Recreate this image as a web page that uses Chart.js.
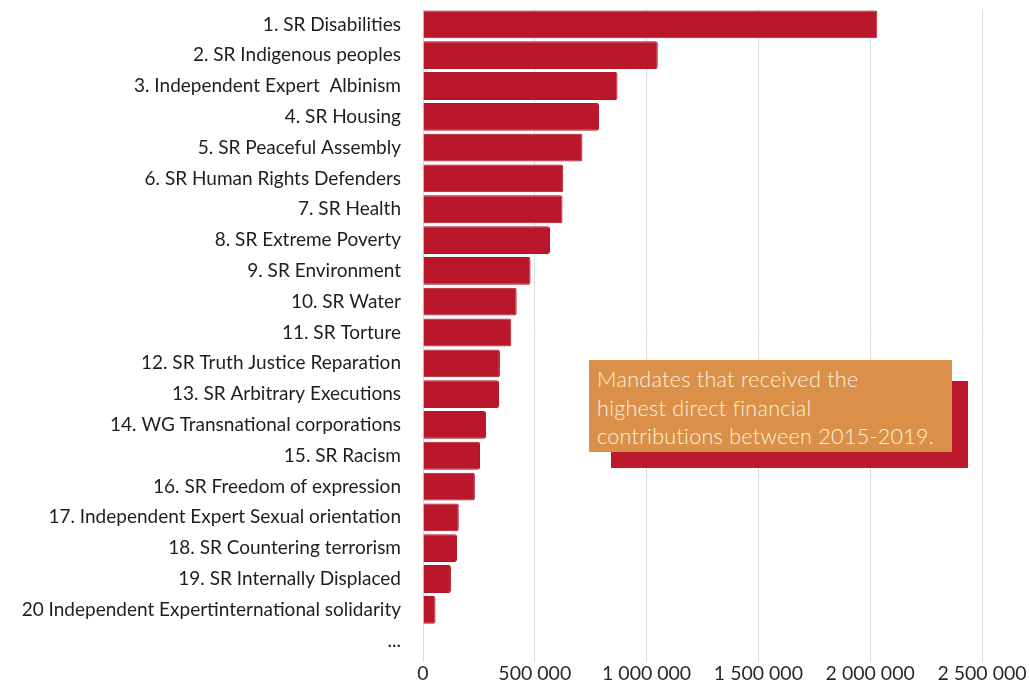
<!DOCTYPE html>
<html>
<head>
<meta charset="utf-8">
<title>Mandates funding</title>
<script src="https://cdn.jsdelivr.net/npm/chart.js@4.4.0/dist/chart.umd.min.js"></script>
<style>
    html, body { margin: 0; padding: 0; background: #ffffff; }
    #wrap { position: relative; width: 1029px; height: 684px; }
    /* Callout box with its red drop block behind it */
    .note-shadow {
        position: absolute; left: 611px; top: 381px; width: 357px; height: 87px;
        background: #bc1a2c;
    }
    .note {
        position: absolute; left: 589px; top: 360px; width: 363px; height: 92px;
        background: #da9049; color: #fdf1df;
        font-family: Lato, sans-serif; font-weight: 300; font-size: 21.5px; line-height: 28.5px;
        padding: 5px 0 0 8px; box-sizing: border-box; letter-spacing: 0.3px;
        white-space: nowrap;
    }
</style>
</head>
<body>
<div id="wrap">
    <canvas id="chart" width="1029" height="684"></canvas>
    <div class="note-shadow"></div>
    <div class="note">Mandates that received the<br>highest direct financial<br>contributions between 2015-2019.</div>
</div>
<script>
// Mandate names, in ranking order
const mandates = [
    '1. SR Disabilities',
    '2. SR Indigenous peoples',
    '3. Independent Expert  Albinism',
    '4. SR Housing',
    '5. SR Peaceful Assembly',
    '6. SR Human Rights Defenders',
    '7. SR Health',
    '8. SR Extreme Poverty',
    '9. SR Environment',
    '10. SR Water',
    '11. SR Torture',
    '12. SR Truth Justice Reparation',
    '13. SR Arbitrary Executions',
    '14. WG Transnational corporations',
    '15. SR Racism',
    '16. SR Freedom of expression',
    '17. Independent Expert Sexual orientation',
    '18. SR Countering terrorism',
    '19. SR Internally Displaced',
    '20 Independent Expertinternational solidarity',
    '...'
];

// Direct financial contributions 2015-2019 (USD)
const contributions = [
    2032000, 1050000, 870000, 787000, 713000, 627000, 624000, 568000,
    481000, 419000, 395000, 344000, 340000, 282000, 255000, 232000,
    160000, 152000, 125000, 56000, null
];

// Axis ticks
const tickStep = 500000;
const tickMax = 2500000;

// 1000000 -> "1 000 000"
function spaced(n) {
    return String(n).replace(/\B(?=(\d{3})+(?!\d))/g, ' ');
}

const ctx = document.getElementById('chart');
const chart = new Chart(ctx, {
    type: 'bar',
    data: {
        labels: mandates,
        datasets: [{
            data: contributions,
            backgroundColor: '#ba172a',
            borderColor: '#ad1629',
            borderWidth: 1,
            borderRadius: 2,
            borderSkipped: 'start',
            barPercentage: 0.95,
            categoryPercentage: 0.95
        }]
    },
    options: {
        indexAxis: 'y',
        responsive: false,
        animation: false,
        layout: { padding: { top: 9, right: 47, bottom: 0, left: 0 } },
        plugins: {
            legend: { display: false },
            tooltip: { enabled: false }
        },
        scales: {
            x: {
                min: 0,
                max: tickMax,
                border: { display: false },
                grid: { color: '#dcdcdc', lineWidth: 1, tickLength: 6 },
                afterFit: function(scale) {
                    scale.height = 28;
                    scale.paddingLeft = 0;
                    scale.paddingRight = 0;
                },
                ticks: {
                    stepSize: tickStep,
                    padding: 0,
                    color: '#2a2a2a',
                    font: { family: 'Lato', size: 19.5 },
                    callback: function(value) { return spaced(value); }
                }
            },
            y: {
                border: { display: false },
                grid: { display: false },
                afterFit: function(scale) {
                    // fixed label column; drop the extra top/bottom label padding
                    scale.width = 423;
                    scale.paddingTop = 0;
                    scale.paddingBottom = 0;
                },
                ticks: {
                    padding: 14,
                    color: '#1e1e1e',
                    font: { family: 'Lato', size: 19 },
                    autoSkip: false
                }
            }
        }
    }
});
</script>
</body>
</html>
